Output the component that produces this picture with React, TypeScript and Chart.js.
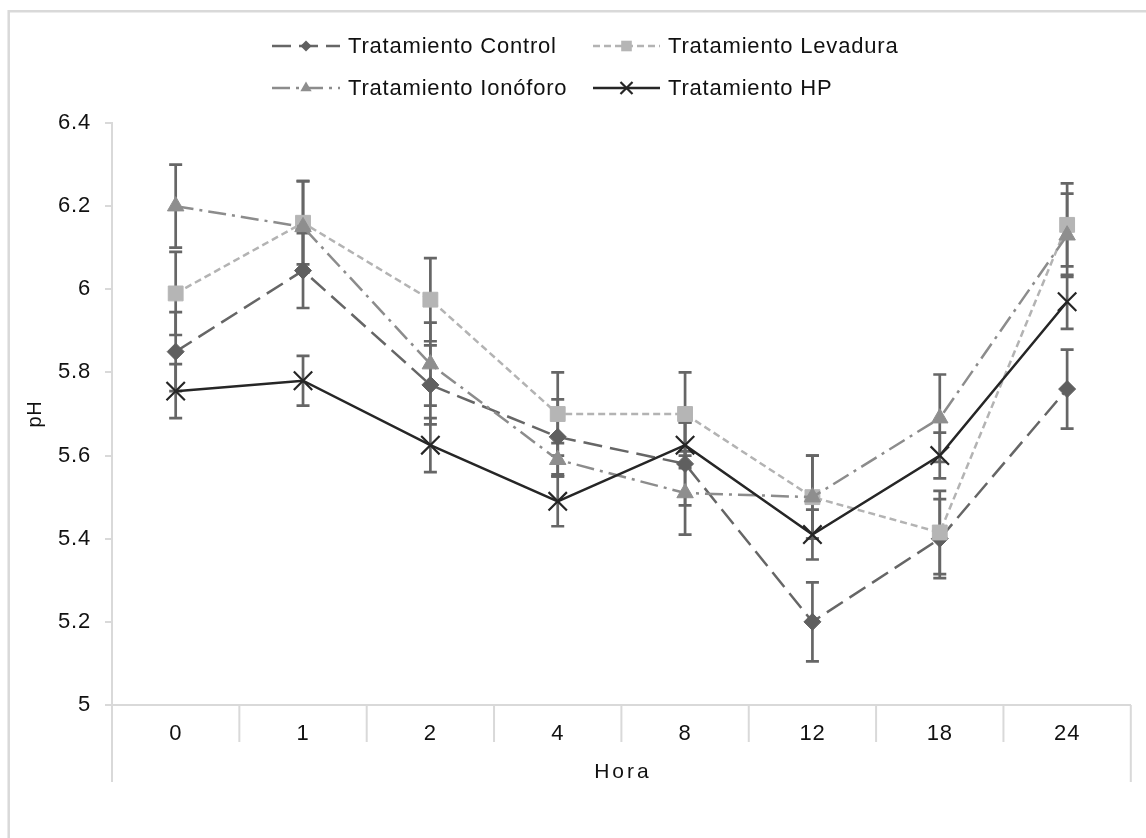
import React, { useEffect, useRef } from 'react';
import { Chart, registerables } from 'chart.js';

Chart.register(...registerables);

// ---------- data ----------
const hours = ['0', '1', '2', '4', '8', '12', '18', '24'];

const seriesNames = ['Tratamiento Control', 'Tratamiento Levadura', 'Tratamiento Ionóforo', 'Tratamiento HP'];

const controlValues = [5.85, 6.045, 5.77, 5.645, 5.58, 5.2, 5.4, 5.76];
const controlErrors = [0.095, 0.09, 0.095, 0.09, 0.1, 0.095, 0.095, 0.095];

const levaduraValues = [5.99, 6.16, 5.975, 5.7, 5.7, 5.5, 5.415, 6.155];
const levaduraErrors = [0.1, 0.1, 0.1, 0.1, 0.1, 0.1, 0.1, 0.1];

const ionoforoValues = [6.2, 6.15, 5.82, 5.59, 5.51, 5.5, 5.69, 6.13];
const ionoforoErrors = [0.1, 0.11, 0.1, 0.04, 0.1, 0.1, 0.105, 0.1];

const hpValues = [5.755, 5.78, 5.625, 5.49, 5.625, 5.41, 5.6, 5.97];
const hpErrors = [0.065, 0.06, 0.065, 0.06, 0.055, 0.06, 0.055, 0.065];

const yTickValues = [5, 5.2, 5.4, 5.6, 5.8, 6, 6.2, 6.4];

const xTitle = 'Hora';
const yTitle = 'pH';

// ---------- styles ----------
const FONT = "'Liberation Sans', Arial, Helvetica, sans-serif";
const TEXT = '#111111';
const AXIS = '#d9d9d9';
const ERR = '#666666';

const styles = [
  { line: '#666666', point: '#5f5f5f', dash: [19, 8], pointStyle: 'rectRot', r: 8.5, lr: 5.5 },
  { line: '#b3b3b3', point: '#b5b5b5', dash: [7, 4], pointStyle: 'rect', r: 10.5, lr: 7.5 },
  { line: '#8c8c8c', point: '#8e8e8e', dash: [18, 6, 3, 6], pointStyle: 'triangle', r: 9.5, lr: 6.5 },
  { line: '#262626', point: '#262626', dash: [], pointStyle: 'crossRot', r: 13, lr: 8.5 },
];

const valueSets = [controlValues, levaduraValues, ionoforoValues, hpValues];
const errorSets = [controlErrors, levaduraErrors, ionoforoErrors, hpErrors];

function drawMarker(ctx: CanvasRenderingContext2D, style: string, x: number, y: number, r: number, color: string) {
  ctx.save();
  ctx.fillStyle = color;
  ctx.strokeStyle = color;
  ctx.setLineDash([]);
  ctx.beginPath();
  if (style === 'rectRot') {
    ctx.moveTo(x - r, y);
    ctx.lineTo(x, y - r);
    ctx.lineTo(x + r, y);
    ctx.lineTo(x, y + r);
    ctx.closePath();
    ctx.fill();
  } else if (style === 'rect') {
    const s = Math.SQRT1_2 * r;
    ctx.rect(x - s, y - s, 2 * s, 2 * s);
    ctx.fill();
  } else if (style === 'triangle') {
    const h = r * 0.866;
    ctx.moveTo(x, y - r);
    ctx.lineTo(x + h, y + r / 2);
    ctx.lineTo(x - h, y + r / 2);
    ctx.closePath();
    ctx.fill();
  } else {
    const o = Math.SQRT1_2 * r;
    ctx.lineWidth = 2.2;
    ctx.moveTo(x - o, y - o);
    ctx.lineTo(x + o, y + o);
    ctx.moveTo(x - o, y + o);
    ctx.lineTo(x + o, y - o);
    ctx.stroke();
  }
  ctx.restore();
}

const spacingPlugin = {
  id: 'spacing',
  beforeDraw(chart: any) {
    (chart.ctx as any).letterSpacing = '0.8px';
  },
};

const errorBarsPlugin = {
  id: 'errorBars',
  beforeDatasetsDraw(chart: any) {
    const ctx = chart.ctx as CanvasRenderingContext2D;
    const ys = chart.scales.y;
    chart.data.datasets.forEach((ds: any, di: number) => {
      const meta = chart.getDatasetMeta(di);
      const errs = errorSets[di];
      meta.data.forEach((pt: any, i: number) => {
        const v = ds.data[i] as number;
        const e = errs[i];
        const yt = ys.getPixelForValue(v + e);
        const yb = ys.getPixelForValue(v - e);
        ctx.save();
        ctx.strokeStyle = ERR;
        ctx.lineWidth = 2.7;
        ctx.beginPath();
        ctx.moveTo(pt.x, yt);
        ctx.lineTo(pt.x, yb);
        ctx.moveTo(pt.x - 6.5, yt);
        ctx.lineTo(pt.x + 6.5, yt);
        ctx.moveTo(pt.x - 6.5, yb);
        ctx.lineTo(pt.x + 6.5, yb);
        ctx.stroke();
        ctx.restore();
      });
    });
  },
};

const decorPlugin = {
  id: 'decor',
  afterDraw(chart: any) {
    const ctx = chart.ctx as CanvasRenderingContext2D;
    const xs = chart.scales.x;
    const area = chart.chartArea;
    ctx.save();
    // outer frame
    ctx.strokeStyle = AXIS;
    ctx.lineWidth = 2.5;
    ctx.beginPath();
    ctx.moveTo(8.7, 2000);
    ctx.lineTo(8.7, 11.3);
    ctx.lineTo(2000, 11.3);
    ctx.stroke();

    // category separators
    const bw = xs.getPixelForValue(1) - xs.getPixelForValue(0);
    ctx.lineWidth = 2;
    ctx.beginPath();
    for (let i = 0; i <= hours.length; i++) {
      const x = xs.getPixelForValue(i) - bw / 2;
      const end = i === 0 || i === hours.length ? 782 : 742;
      ctx.moveTo(x, area.bottom);
      ctx.lineTo(x, end);
    }
    ctx.stroke();

    // x title
    ctx.fillStyle = TEXT;
    ctx.font = `21px ${FONT}`;
    (ctx as any).letterSpacing = '3px';
    ctx.textAlign = 'center';
    ctx.textBaseline = 'middle';
    ctx.fillText(xTitle, (area.left + area.right) / 2 + 1.5, 772);

    // legend
    (ctx as any).letterSpacing = '0.8px';
    ctx.font = `22px ${FONT}`;
    ctx.textAlign = 'left';
    const legendPos = [
      { x0: 272, x1: 340, y: 46, tx: 348 },
      { x0: 593, x1: 660, y: 46, tx: 668 },
      { x0: 272, x1: 340, y: 88, tx: 348 },
      { x0: 593, x1: 660, y: 88, tx: 668 },
    ];
    legendPos.forEach((p, i) => {
      const st = styles[i];
      ctx.save();
      ctx.strokeStyle = st.line;
      ctx.lineWidth = 2.5;
      ctx.setLineDash(st.dash);
      ctx.beginPath();
      ctx.moveTo(p.x0, p.y);
      ctx.lineTo(p.x1, p.y);
      ctx.stroke();
      ctx.restore();
      drawMarker(ctx, st.pointStyle, (p.x0 + p.x1) / 2, p.y, st.lr, st.point);
      ctx.fillStyle = TEXT;
      ctx.fillText(seriesNames[i], p.tx, p.y + 1);
    });
    ctx.restore();
  },
};

export default function App() {
  const ref = useRef<HTMLCanvasElement | null>(null);

  useEffect(() => {
    if (!ref.current) return;
    const datasets = valueSets.map((vals, i) => ({
      label: seriesNames[i],
      data: vals,
      borderColor: styles[i].line,
      backgroundColor: styles[i].point,
      borderWidth: 2.5,
      borderDash: styles[i].dash,
      pointStyle: styles[i].pointStyle,
      pointRadius: styles[i].r,
      pointHoverRadius: styles[i].r,
      pointBackgroundColor: styles[i].point,
      pointBorderColor: styles[i].point,
      pointBorderWidth: i === 3 ? 2.2 : 1,
      tension: 0,
      fill: false,
      order: 3 - i,
    }));

    const chart = new Chart(ref.current, {
      type: 'line',
      data: { labels: hours, datasets },
      plugins: [spacingPlugin, errorBarsPlugin, decorPlugin],
      options: {
        responsive: false,
        animation: false,
        layout: { padding: { top: 123, right: 12, left: 0, bottom: 0 } },
        plugins: {
          legend: { display: false },
          tooltip: { enabled: false },
          title: { display: false },
        },
        scales: {
          x: {
            type: 'category',
            offset: true,
            grid: { display: false, drawTicks: false, drawOnChartArea: false },
            border: { display: true, color: AXIS, width: 2 },
            ticks: {
              color: TEXT,
              font: { family: FONT, size: 22 },
              padding: 16,
              maxRotation: 0,
              autoSkip: false,
            },
            afterFit: (s: any) => {
              s.height = 838 - 705;
            },
          },
          y: {
            type: 'linear',
            min: 5,
            max: 6.4,
            afterBuildTicks: (s: any) => {
              s.ticks = yTickValues.map((v) => ({ value: v }));
            },
            grid: {
              display: true,
              drawOnChartArea: false,
              drawTicks: true,
              tickLength: 7,
              color: AXIS,
              lineWidth: 2,
            },
            border: { display: true, color: AXIS, width: 2 },
            ticks: {
              color: TEXT,
              font: { family: FONT, size: 22 },
              padding: 14,
              callback: (v: any) => String(Number(Number(v).toFixed(1))),
            },
            title: {
              display: true,
              text: yTitle,
              color: TEXT,
              font: { family: FONT, size: 20 },
              padding: { top: 23, bottom: 0 },
            },
            afterFit: (s: any) => {
              s.width = 112;
            },
          },
        },
      },
    });
    return () => chart.destroy();
  }, []);

  return (
    <div style={{ position: 'fixed', left: 0, top: 0, width: 1146, height: 838, background: '#fff' }}>
      <canvas ref={ref} width={1146} height={838} style={{ display: 'block', width: 1146, height: 838 }} />
    </div>
  );
}
